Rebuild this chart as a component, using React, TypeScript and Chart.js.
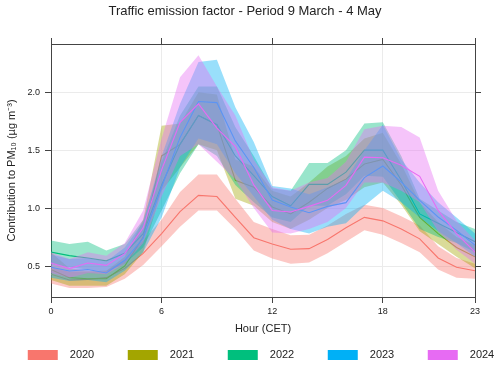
import React, { useEffect, useRef } from 'react';
import { Chart, registerables } from 'chart.js';

Chart.register(...registerables);

const FONT = "'Liberation Sans', Arial, Helvetica, sans-serif";

const hours = [0, 1, 2, 3, 4, 5, 6, 7, 8, 9, 10, 11, 12, 13, 14, 15, 16, 17, 18, 19, 20, 21, 22, 23];
const years = ['2020', '2021', '2022', '2023', '2024'];
const colors = ['#F8766D', '#A3A500', '#00BF7D', '#00B0F6', '#E76BF3'];

const mean2020 = [0.43, 0.38, 0.385, 0.40, 0.48, 0.61, 0.78, 0.97, 1.11, 1.10, 0.92, 0.745, 0.69, 0.645, 0.65, 0.73, 0.83, 0.92, 0.89, 0.82, 0.735, 0.57, 0.49, 0.46];
const lower2020 = [0.35, 0.31, 0.31, 0.32, 0.39, 0.51, 0.67, 0.84, 0.98, 0.98, 0.82, 0.635, 0.565, 0.52, 0.53, 0.61, 0.71, 0.81, 0.77, 0.70, 0.62, 0.47, 0.40, 0.39];
const upper2020 = [0.49, 0.45, 0.45, 0.46, 0.55, 0.72, 0.90, 1.14, 1.29, 1.29, 1.08, 0.88, 0.82, 0.765, 0.77, 0.85, 0.95, 1.03, 1.00, 0.93, 0.85, 0.67, 0.57, 0.52];

const mean2021 = [0.47, 0.40, 0.39, 0.39, 0.50, 0.75, 1.45, 1.55, 1.80, 1.72, 1.24, 1.18, 1.01, 0.95, 1.05, 1.17, 1.25, 1.38, 1.42, 1.20, 0.92, 0.78, 0.66, 0.58];
const lower2021 = [0.38, 0.33, 0.33, 0.33, 0.43, 0.62, 1.15, 1.35, 1.55, 1.50, 1.08, 1.02, 0.88, 0.82, 0.90, 1.00, 1.07, 1.18, 1.22, 1.03, 0.80, 0.69, 0.58, 0.48];
const upper2021 = [0.62, 0.48, 0.46, 0.46, 0.58, 0.90, 1.71, 1.73, 2.00, 1.98, 1.42, 1.36, 1.15, 1.10, 1.22, 1.36, 1.45, 1.60, 1.65, 1.38, 1.05, 0.88, 0.75, 0.68];

const mean2022 = [0.62, 0.59, 0.57, 0.545, 0.61, 0.78, 1.20, 1.55, 1.80, 1.72, 1.45, 1.28, 1.10, 1.02, 1.205, 1.205, 1.31, 1.50, 1.50, 1.24, 0.95, 0.87, 0.79, 0.71];
const lower2022 = [0.52, 0.49, 0.47, 0.45, 0.52, 0.66, 0.98, 1.30, 1.55, 1.45, 1.20, 1.05, 0.92, 0.88, 1.02, 1.02, 1.12, 1.28, 1.27, 1.05, 0.82, 0.75, 0.70, 0.62];
const upper2022 = [0.72, 0.69, 0.71, 0.635, 0.69, 0.90, 1.40, 1.80, 2.05, 2.05, 1.70, 1.45, 1.17, 1.15, 1.39, 1.39, 1.50, 1.73, 1.74, 1.45, 1.08, 0.98, 0.88, 0.82];

const mean2023 = [0.49, 0.457, 0.47, 0.44, 0.55, 0.74, 1.18, 1.61, 1.92, 1.91, 1.58, 1.35, 1.07, 1.01, 0.96, 1.015, 1.047, 1.263, 1.363, 1.225, 1.067, 0.923, 0.808, 0.68];
const lower2023 = [0.40, 0.37, 0.38, 0.36, 0.46, 0.62, 0.92, 1.35, 1.60, 1.55, 1.30, 1.10, 0.90, 0.82, 0.78, 0.84, 0.87, 1.02, 1.15, 1.05, 0.92, 0.80, 0.70, 0.58];
const upper2023 = [0.60, 0.56, 0.57, 0.54, 0.66, 0.88, 1.45, 1.90, 2.26, 2.28, 1.87, 1.57, 1.19, 1.17, 1.12, 1.18, 1.25, 1.50, 1.72, 1.42, 1.22, 1.05, 0.92, 0.78];

const mean2024 = [0.526, 0.478, 0.526, 0.506, 0.607, 0.83, 1.33, 1.74, 1.90, 1.69, 1.53, 1.20, 0.98, 0.966, 1.015, 1.067, 1.196, 1.44, 1.435, 1.37, 1.274, 0.98, 0.78, 0.62];
const lower2024 = [0.44, 0.40, 0.44, 0.43, 0.52, 0.70, 1.10, 1.45, 1.55, 1.40, 1.25, 1.00, 0.79, 0.78, 0.82, 0.88, 1.00, 1.22, 1.22, 1.15, 1.05, 0.80, 0.64, 0.52];
const upper2024 = [0.62, 0.56, 0.62, 0.59, 0.70, 0.98, 1.60, 2.13, 2.32, 2.05, 1.80, 1.42, 1.18, 1.15, 1.22, 1.26, 1.40, 1.68, 1.71, 1.70, 1.61, 1.15, 0.89, 0.72];

const xTicks = [0, 6, 12, 18, 23];
const yTicks = [0.5, 1.0, 1.5, 2.0];
const xMin = 0;
const xMax = 23;
const yMin = 0.233;
const yMax = 2.416;

const titleText = 'Traffic emission factor - Period 9 March - 4 May';
const xTitle = 'Hour (CET)';
const yTitle = 'Contribution to PM\u2081\u2080 (\u00B5g m\u207B\u00B3)';

const series = [
  { year: years[0], color: colors[0], mean: mean2020, lower: lower2020, upper: upper2020 },
  { year: years[1], color: colors[1], mean: mean2021, lower: lower2021, upper: upper2021 },
  { year: years[2], color: colors[2], mean: mean2022, lower: lower2022, upper: upper2022 },
  { year: years[3], color: colors[3], mean: mean2023, lower: lower2023, upper: upper2023 },
  { year: years[4], color: colors[4], mean: mean2024, lower: lower2024, upper: upper2024 },
];

function rgba(hex: string, a: number) {
  const n = parseInt(hex.slice(1), 16);
  return `rgba(${(n >> 16) & 255}, ${(n >> 8) & 255}, ${n & 255}, ${a})`;
}

function pts(vals: number[]) {
  return hours.map((h, i) => ({ x: h, y: vals[i] }));
}

const titlePlugin = {
  id: 'customTitle',
  afterDraw(chart: any) {
    const ctx = chart.ctx;
    ctx.save();
    ctx.font = `13px ${FONT}`;
    ctx.fillStyle = '#222';
    ctx.textAlign = 'center';
    ctx.textBaseline = 'middle';
    ctx.fillText(titleText, chart.width * 0.49, 11);
    ctx.restore();
  },
};

const legendPlugin = {
  id: 'customLegend',
  afterDraw(chart: any) {
    const ctx = chart.ctx;
    const area = chart.chartArea;
    ctx.save();
    ctx.font = `11px ${FONT}`;
    const boxW = 30;
    const boxH = 10;
    const gap = 12;
    const spacing = 100;
    const lastW = boxW + gap + ctx.measureText(years[years.length - 1]).width;
    const total = spacing * (years.length - 1) + lastW;
    const start = (area.left + area.right) / 2 - total / 2 - 2;
    const cy = chart.height - 11;
    years.forEach((yr, i) => {
      const x = start + i * spacing;
      ctx.fillStyle = colors[i];
      ctx.fillRect(x, cy - boxH / 2, boxW, boxH);
      ctx.fillStyle = '#222';
      ctx.textAlign = 'left';
      ctx.textBaseline = 'middle';
      ctx.fillText(yr, x + boxW + gap, cy);
    });
    ctx.restore();
  },
};

export default function App() {
  const ref = useRef<HTMLCanvasElement | null>(null);

  useEffect(() => {
    if (!ref.current) return;
    const datasets: any[] = [];
    series.forEach((s) => {
      const base = datasets.length;
      datasets.push({
        label: s.year + ' lower',
        data: pts(s.lower),
        borderWidth: 0,
        borderColor: 'rgba(0,0,0,0)',
        pointRadius: 0,
        fill: false,
        tension: 0,
        order: 1000 - base,
      });
      datasets.push({
        label: s.year + ' upper',
        data: pts(s.upper),
        borderWidth: 0,
        borderColor: 'rgba(0,0,0,0)',
        backgroundColor: rgba(s.color, 0.4),
        pointRadius: 0,
        fill: '-1',
        tension: 0,
        order: 1000 - base - 1,
      });
      datasets.push({
        label: s.year,
        data: pts(s.mean),
        borderColor: s.color,
        borderWidth: 1.1,
        pointRadius: 0,
        fill: false,
        tension: 0,
        order: 1000 - base - 2,
      });
    });

    const tickFont = { family: FONT, size: 9 };
    const titleFont = { family: FONT, size: 11 };
    const gridMain = { color: '#ebebeb', tickColor: '#444', tickLength: 6, lineWidth: 1 };
    const gridSide = { drawOnChartArea: false, tickColor: '#444', tickLength: 6, lineWidth: 1 };
    const border = { display: true, color: '#444', width: 1 };
    const setX = (s: any) => { s.ticks = xTicks.map((v) => ({ value: v })); };
    const setY = (s: any) => { s.ticks = yTicks.map((v) => ({ value: v })); };

    const chart = new Chart(ref.current, {
      type: 'line',
      data: { datasets },
      plugins: [titlePlugin, legendPlugin],
      options: {
        animation: false,
        responsive: true,
        maintainAspectRatio: false,
        layout: { padding: { top: 38, right: 19, bottom: 24, left: 0 } },
        plugins: {
          legend: { display: false },
          title: { display: false },
          tooltip: { enabled: false },
          filler: { propagate: false },
        },
        scales: {
          x: {
            type: 'linear',
            position: 'bottom',
            min: xMin,
            max: xMax,
            afterBuildTicks: setX,
            afterFit: (s: any) => { s.height = 45; },
            ticks: { font: tickFont, color: '#222', padding: 3, maxRotation: 0, autoSkip: false, callback: (v: any) => String(v) },
            grid: gridMain,
            border,
            title: { display: true, text: xTitle, font: titleFont, color: '#222', padding: { top: 4, bottom: 6 } },
          },
          y: {
            type: 'linear',
            position: 'left',
            min: yMin,
            max: yMax,
            afterBuildTicks: setY,
            afterFit: (s: any) => { s.width = 51; },
            ticks: { font: tickFont, color: '#222', padding: 5, autoSkip: false, callback: (v: any) => Number(v).toFixed(1) },
            grid: gridMain,
            border,
            title: { display: true, text: yTitle, font: titleFont, color: '#222', padding: { top: 5, bottom: 0 } },
          },
          x2: {
            type: 'linear',
            position: 'top',
            min: xMin,
            max: xMax,
            afterBuildTicks: setX,
            afterFit: (s: any) => { s.height = 6; },
            ticks: { display: false },
            grid: gridSide,
            border,
          },
          y2: {
            type: 'linear',
            position: 'right',
            min: yMin,
            max: yMax,
            afterBuildTicks: setY,
            afterFit: (s: any) => { s.width = 6; },
            ticks: { display: false },
            grid: gridSide,
            border,
          },
        },
      } as any,
    });
    return () => chart.destroy();
  }, []);

  return (
    <div style={{ position: 'absolute', left: 0, top: 0, width: 500, height: 366, background: '#fff' }}>
      <canvas ref={ref} style={{ width: '100%', height: '100%' }} />
    </div>
  );
}
